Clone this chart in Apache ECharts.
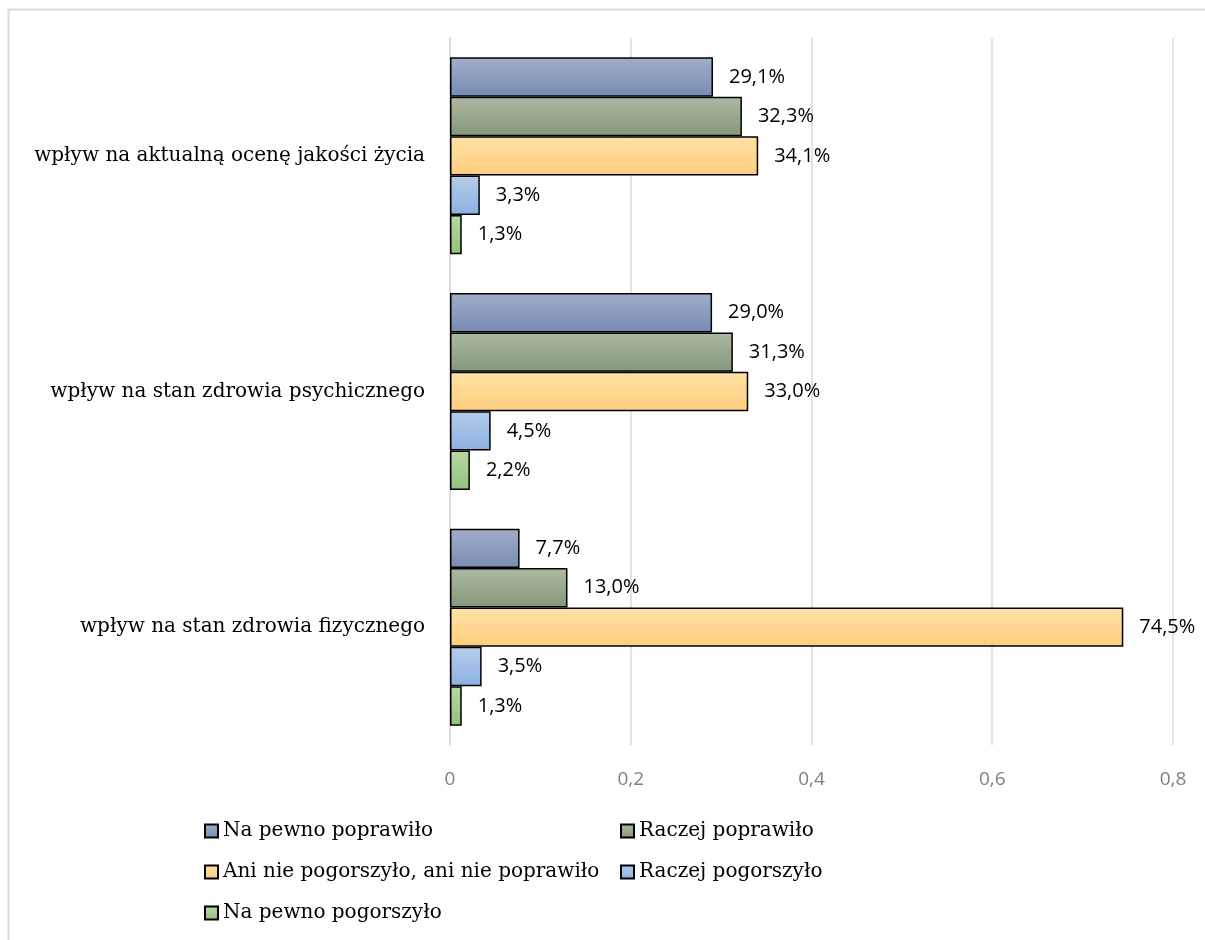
<!DOCTYPE html>
<html>
<head>
<meta charset="utf-8">
<script src="https://cdn.jsdelivr.net/npm/echarts@6/dist/echarts.min.js"></script>
<style>
  html, body { margin: 0; padding: 0; background: #fff; }
  #chart { width: 1205px; height: 940px; }
</style>
</head>
<body>
<div id="chart"></div>
<script>
// Categories, top to bottom
const categories = [
  'wpływ na aktualną ocenę jakości życia',
  'wpływ na stan zdrowia psychicznego',
  'wpływ na stan zdrowia fizycznego'
];

const seriesNames = [
  'Na pewno poprawiło',
  'Raczej poprawiło',
  'Ani nie pogorszyło, ani nie poprawiło',
  'Raczej pogorszyło',
  'Na pewno pogorszyło'
];

// Shares per category (same order as categories)
const naPewnoPoprawilo = [0.291, 0.290, 0.077];
const raczejPoprawilo = [0.323, 0.313, 0.130];
const aniNieAni = [0.341, 0.330, 0.745];
const raczejPogorszylo = [0.033, 0.045, 0.035];
const naPewnoPogorszylo = [0.013, 0.022, 0.013];

const xTicks = [0, 0.2, 0.4, 0.6, 0.8];

const values = [naPewnoPoprawilo, raczejPoprawilo, aniNieAni, raczejPogorszylo, naPewnoPogorszylo];

// top / bottom colours of each bar's vertical gradient
const palette = [
  ['#a1adc8', '#788bb4'],
  ['#acb9a2', '#85987b'],
  ['#ffe2a6', '#fdcd7c'],
  ['#b6cceb', '#8cb1e2'],
  ['#b8d7a6', '#94c27b']
];

const serif = '"DejaVu Serif", "Liberation Serif", serif';
const sans = '"Open Sans", "Liberation Sans", sans-serif';

function fmtPct(v) {
  return (v * 100).toFixed(1).replace('.', ',') + '%';
}

const chart = echarts.init(document.getElementById('chart'), null, { renderer: 'canvas' });

const series = seriesNames.map((name, i) => ({
  name: name,
  type: 'bar',
  data: values[i],
  barGap: '0%',
  barCategoryGap: '16.4%',
  itemStyle: {
    color: new echarts.graphic.LinearGradient(0, 0, 0, 1, [
      { offset: 0, color: palette[i][0] },
      { offset: 1, color: palette[i][1] }
    ]),
    borderColor: '#000',
    borderWidth: 1.5
  },
  label: {
    show: true,
    position: 'right',
    distance: 16,
    color: '#000',
    fontFamily: sans,
    fontSize: 20,
    formatter: p => fmtPct(p.value)
  }
}));

const legendText = { fontFamily: serif, fontSize: 20, color: '#000', lineHeight: 20 };

chart.setOption({
  animation: false,
  backgroundColor: '#fff',
  graphic: [{
    type: 'rect',
    shape: { x: 8.5, y: 9.5, width: 1300, height: 1000 },
    style: { fill: 'none', stroke: '#d9d9d9', lineWidth: 2 },
    silent: true,
    z: -10
  }],
  grid: { left: 450, right: 32, top: 38, bottom: 195, containLabel: false },
  xAxis: {
    type: 'value',
    min: 0,
    max: 0.8,
    interval: 0.2,
    axisLine: { show: false },
    axisTick: { show: false },
    splitLine: { show: true, lineStyle: { color: '#d9d9d9', width: 1.5 } },
    axisLabel: {
      margin: 25,
      color: '#7f7f7f',
      fontFamily: sans,
      fontSize: 19,
      formatter: v => {
        const t = xTicks.find(x => Math.abs(x - v) < 1e-9);
        return t === 0 ? '0' : String(+v.toFixed(1)).replace('.', ',');
      }
    }
  },
  yAxis: {
    type: 'category',
    inverse: true,
    data: categories,
    axisLine: { show: true, lineStyle: { color: '#d9d9d9', width: 1.5 } },
    axisTick: { show: false },
    axisLabel: {
      margin: 25,
      color: '#000',
      fontFamily: serif,
      fontSize: 20
    }
  },
  legend: [
    {
      data: [seriesNames[0], seriesNames[2], seriesNames[4]],
      orient: 'vertical',
      left: 204,
      top: 821,
      padding: 0,
      itemWidth: 13,
      itemHeight: 13,
      itemGap: 21,
      icon: 'rect',
      textStyle: legendText,
      selectedMode: false
    },
    {
      data: [seriesNames[1], seriesNames[3]],
      orient: 'vertical',
      left: 620,
      top: 821,
      padding: 0,
      itemWidth: 13,
      itemHeight: 13,
      itemGap: 21,
      icon: 'rect',
      textStyle: legendText,
      selectedMode: false
    }
  ],
  series: series
});
</script>
</body>
</html>
